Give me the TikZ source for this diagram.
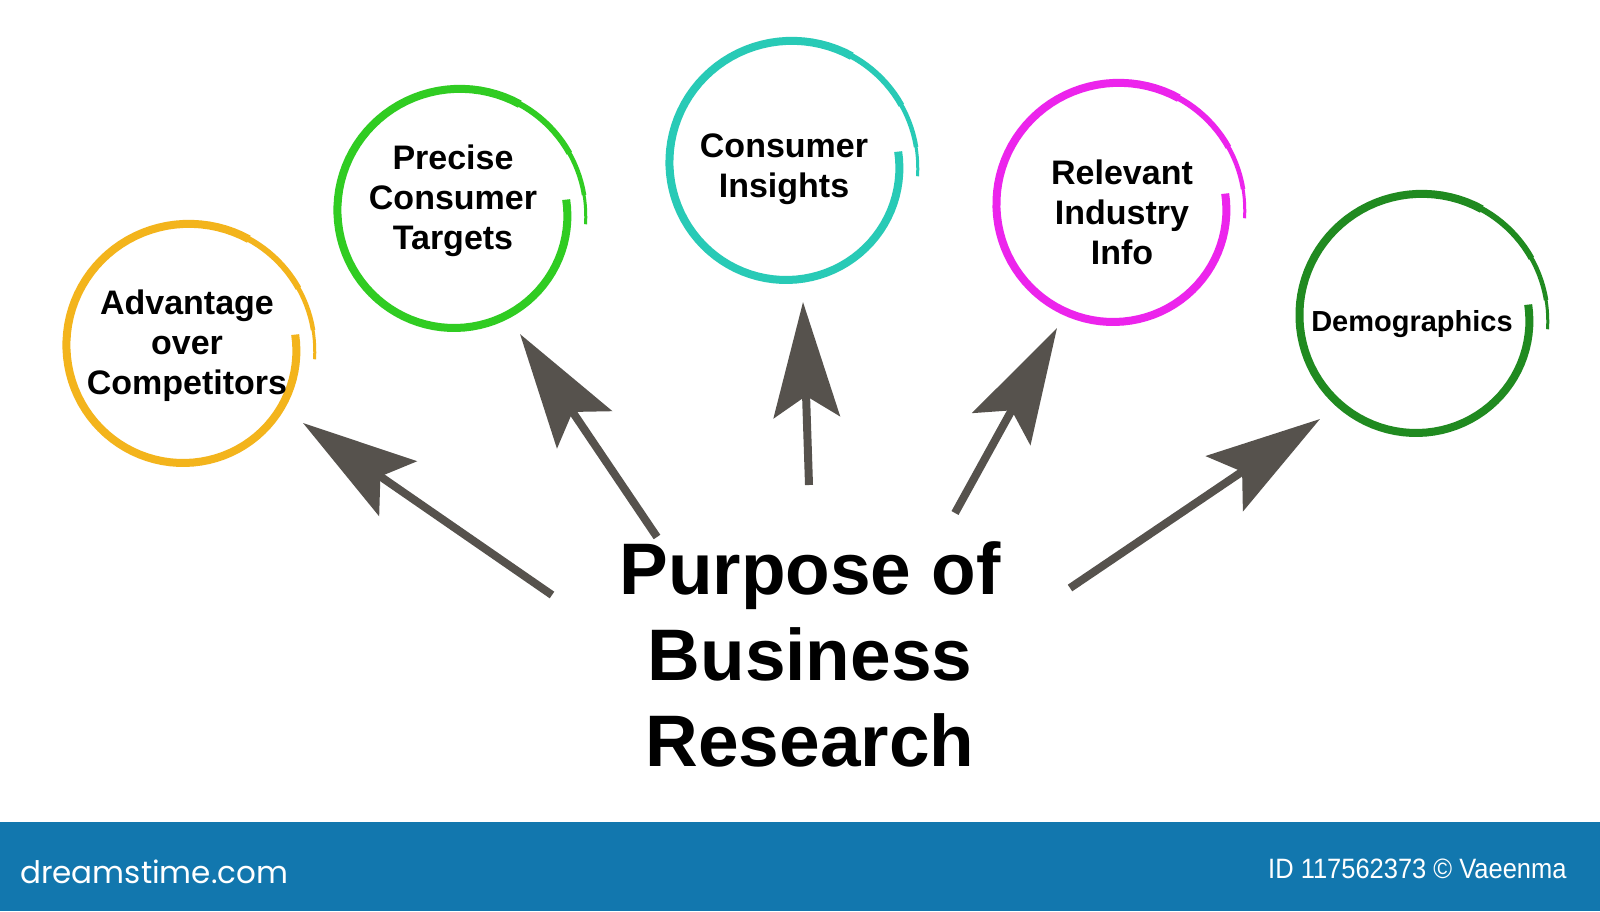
\documentclass[tikz,border=0pt]{standalone}
\usepackage{fontspec}
\setmainfont{Liberation Sans}
\newfontfamily\logofont{Poppins}
\usetikzlibrary{arrows.meta}
\definecolor{ringorange}{RGB}{243,180,28}
\definecolor{ringgreen}{RGB}{48,204,34}
\definecolor{ringteal}{RGB}{40,202,182}
\definecolor{ringpink}{RGB}{236,36,236}
\definecolor{ringdark}{RGB}{32,138,32}
\definecolor{arrowgray}{RGB}{86,82,77}
\definecolor{barblue}{RGB}{18,119,174}
% hand drawn ring: centre x, centre y, colour
\newcommand{\spiralring}[3]{%
\draw[#3,line width=8pt] plot[domain=-300:7,samples=80] ({#1+(110+19*(7-\x)/372)*cos(\x)},{#2-(110+19*(7-\x)/372)*sin(\x)});
\draw[#3,line width=6pt] plot[domain=-332:-299,samples=12] ({#1+(110+19*(7-\x)/372)*cos(\x)},{#2-(110+19*(7-\x)/372)*sin(\x)});
\draw[#3,line width=4.5pt] plot[domain=-352:-331,samples=8] ({#1+(110+19*(7-\x)/372)*cos(\x)},{#2-(110+19*(7-\x)/372)*sin(\x)});
\draw[#3,line width=3pt] plot[domain=-365:-351,samples=6] ({#1+(110+19*(7-\x)/372)*cos(\x)},{#2-(110+19*(7-\x)/372)*sin(\x)});
}
\begin{document}
\begin{tikzpicture}[x=1pt,y=-1pt,
ringtext/.style={inner sep=0pt,align=center,font=\fontsize{34}{40}\selectfont\bfseries},
arrowline/.style={draw=arrowgray,line width=8pt,-{Stealth[length=115pt,width=66pt,inset=21pt]}}]
\useasboundingbox (0,0) rectangle (1600,911);
\fill[white] (0,0) rectangle (1600,911);
\spiralring{186}{348}{ringorange}
\spiralring{457}{213}{ringgreen}
\spiralring{789}{165}{ringteal}
\spiralring{1116}{207}{ringpink}
\spiralring{1419}{318}{ringdark}
\node[ringtext] (adv) at (187,346) {Advantage\\over\\Competitors};
\node[ringtext] (prec) at (453,201) {Precise\\Consumer\\Targets};
\node[ringtext] (ins) at (784,169) {Consumer\\Insights};
\node[ringtext] (rel) at (1122,212) {Relevant\\Industry\\Info};
\node[ringtext,font=\fontsize{29}{34}\selectfont\bfseries] (demo) at (1412,324) {Demographics};
\node[inner sep=0pt,align=center,font=\fontsize{73}{86}\selectfont\bfseries] (purpose) at (810,654) {Purpose of\\Business\\Research};
%arrows
\coordinate (a1s) at (552,595); \coordinate (a1e) at (303,423);
\coordinate (a2s) at (657,537); \coordinate (a2e) at (520,334);
\coordinate (a3s) at (809,485); \coordinate (a3e) at (803,302);
\coordinate (a4s) at (955,513); \coordinate (a4e) at (1057,328);
\coordinate (a5s) at (1070,588); \coordinate (a5e) at (1320,419);
\draw[arrowline] (a1s)--(a1e);
\draw[arrowline] (a2s)--(a2e);
\draw[arrowline] (a3s)--(a3e);
\draw[arrowline] (a4s)--(a4e);
\draw[arrowline] (a5s)--(a5e);
%footer
\fill[barblue] (0,822) rectangle (1600,911);
\node[anchor=base west,inner sep=0pt,text=white,font=\logofont\fontsize{31}{36}\selectfont] (logo) at (20,883) {dreamstime.com};
\node[anchor=base west,inner sep=0pt,text=white,font=\fontsize{28}{32}\selectfont] (imgid) at (1268,878) {\scalebox{0.91}[1]{ID 117562373 © Vaeenma}};
\end{tikzpicture}
\end{document}
